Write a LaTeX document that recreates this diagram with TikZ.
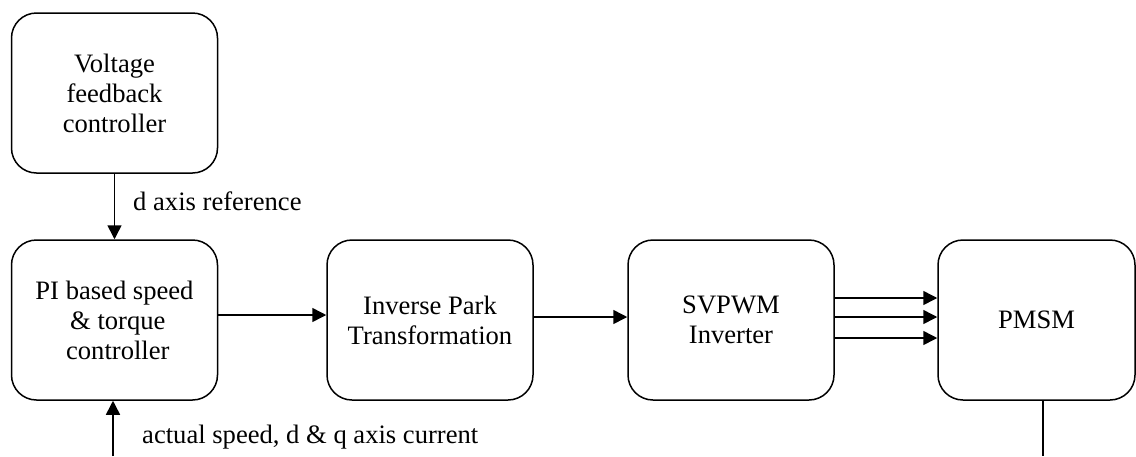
\documentclass[tikz,border=0pt]{standalone}
\usepackage{fontspec}
\setmainfont{Liberation Serif}
\usetikzlibrary{arrows.meta,positioning}

\begin{document}
\begin{tikzpicture}[x=1pt, y=-1pt]
    \tikzset{block/.style = {draw, line width=1.5pt, rounded corners=25pt, minimum width=206pt, minimum height=160pt, align=center, inner sep=0pt, font=\fontsize{26.6}{30}\selectfont},
             lbl/.style = {font=\fontsize{26.6}{30}\selectfont, inner sep=0pt},
             arr/.style = {line width=1.5pt, -{Triangle[length=14pt, width=14pt]}}}
    \useasboundingbox (0,0) rectangle (1136,456);
    % blocks
    \node[block] (volt) at (114.5,93) {Voltage\\feedback\\controller};
    \node[block] (pi) at (114.5,320) {PI based speed\\ \ \& torque\\ \ controller};
    \node[block] (inv) at (430,320) {Inverse Park\\Transformation};
    \node[block] (svpwm) at (731,320) {SVPWM\\Inverter};
    \node[block, minimum width=197pt] (pmsm) at (1036.5,320) {PMSM};
    % connections
    \draw[arr] (volt) -- (pi);
    \node[lbl, anchor=west] (dref) at (133,201) {d axis reference};
    \draw[arr] ([yshift=5pt]pi.east) -- ([yshift=5pt]inv.west);
    \draw[arr] ([yshift=3pt]inv.east) -- ([yshift=3pt]svpwm.west);
    \foreach \s in {22, 3, -18}
        {\draw[arr] ([yshift=\s pt]svpwm.east) -- ([yshift=\s pt]pmsm.west);}
    % feedback
    \coordinate (fbR) at (1043,456);
    \coordinate (fbL) at (113,456);
    \draw[line width=1.5pt] (pmsm.south -| fbR) -- (fbR);
    \draw[arr] (fbL) -- (pi.south -| fbL);
    \node[lbl, anchor=west] (fb) at (142,437) {actual speed, d \& q axis current};
\end{tikzpicture}
\end{document}
